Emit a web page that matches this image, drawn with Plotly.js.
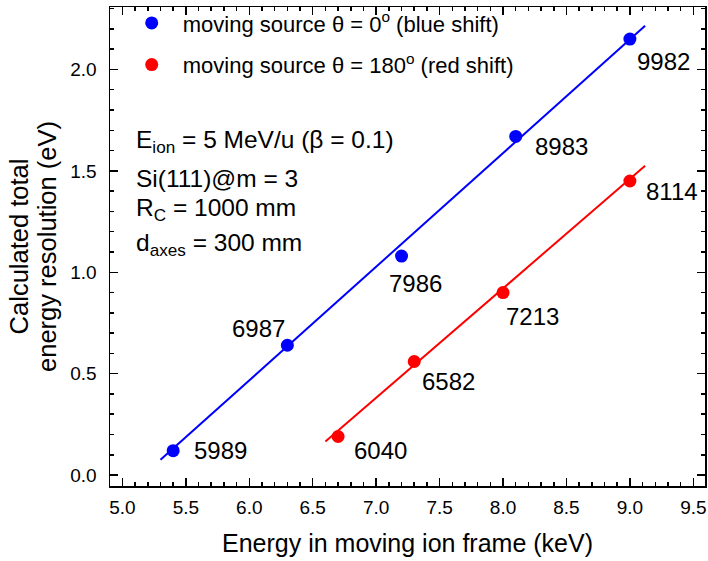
<!DOCTYPE html>
<html><head><meta charset="utf-8">
<script src="https://cdn.plot.ly/plotly-3.0.1.min.js"></script>
<style>html,body{margin:0;padding:0;background:#fff}</style>
</head><body><div id="chart" style="width:708px;height:561px"></div>
<script>
// ---- data ----
const blueX = [5.4, 6.3, 7.2, 8.1, 9.0];
const blueY = [0.12, 0.64, 1.08, 1.67, 2.15];
const blueLabels = ['5989', '6987', '7986', '8983', '9982'];
const redX = [6.7, 7.3, 8.0, 9.0];
const redY = [0.19, 0.56, 0.90, 1.45];
const redLabels = ['6040', '6582', '7213', '8114'];
const blueFitX = [5.3, 9.12];
const blueFitY = [0.075, 2.215];
const redFitX = [6.6, 9.12];
const redFitY = [0.165, 1.525];
const blueName = 'moving source \u03b8 = 0<sup>o</sup> (blue shift)';
const redName = 'moving source \u03b8 = 180<sup>o</sup> (red shift)';
const infoLines = ['E<sub>ion</sub> = 5 MeV/u (\u03b2 = 0.1)', 'Si(111)@m = 3', 'R<sub>C</sub> = 1000 mm', 'd<sub>axes</sub> = 300 mm'];
const xTitle = 'Energy in moving ion frame (keV)';
const yTitleLines = ['Calculated total', 'energy resolution (eV)'];

// ---- styles (pixel offsets of the point labels) ----
const blueShift = [[47, 0], [-29, 17], [14, -27], [46, -10], [34, -22]];
const redShift = [[42, -14], [34, -20], [29, -24], [42, -10]];
const infoY = [0.720, 0.642, 0.577, 0.505];

const FONT = 'Liberation Sans, Arial, sans-serif';
const BLUE = '#0000ff', RED = '#ff0000';

const traces = [
  {x: blueFitX, y: blueFitY, mode: 'lines', line: {color: BLUE, width: 2}, showlegend: false, hoverinfo: 'skip'},
  {x: redFitX, y: redFitY, mode: 'lines', line: {color: RED, width: 2}, showlegend: false, hoverinfo: 'skip'},
  {x: blueX, y: blueY, mode: 'markers', name: blueName, legendgroup: 'b', marker: {color: BLUE, size: 13}},
  {x: redX, y: redY, mode: 'markers', name: redName, legendgroup: 'r', marker: {color: RED, size: 13}}
];

const annotations = [];
blueX.forEach((v, i) => annotations.push({x: v, y: blueY[i], xref: 'x', yref: 'y', text: blueLabels[i], showarrow: false,
  xshift: blueShift[i][0], yshift: blueShift[i][1], font: {family: FONT, size: 24, color: '#000'}}));
redX.forEach((v, i) => annotations.push({x: v, y: redY[i], xref: 'x', yref: 'y', text: redLabels[i], showarrow: false,
  xshift: redShift[i][0], yshift: redShift[i][1], font: {family: FONT, size: 24, color: '#000'}}));
infoLines.forEach((t, i) => annotations.push({x: 0.04, y: infoY[i], xref: 'paper', yref: 'paper', xanchor: 'left', yanchor: 'middle',
  text: t, showarrow: false, font: {family: FONT, size: 24.5, color: '#000'}}));

const axisCommon = {
  showline: true, linecolor: '#000', linewidth: 1.5, mirror: 'allticks',
  ticks: 'inside', ticklen: 8, tickwidth: 1.5, tickcolor: '#000',
  showgrid: false, zeroline: false, tickformat: '.1f',
  tickfont: {family: FONT, size: 19, color: '#000'}
};

const layout = {
  width: 708, height: 561,
  margin: {l: 110, r: 3, t: 6, b: 75},
  paper_bgcolor: '#fff', plot_bgcolor: '#fff',
  font: {family: FONT, color: '#000'},
  showlegend: true,
  legend: {x: 0.018, y: 1.008, xanchor: 'left', yanchor: 'top', bgcolor: 'rgba(0,0,0,0)', itemwidth: 52,
    tracegroupgap: 10, font: {family: FONT, size: 22, color: '#000'}},
  xaxis: Object.assign({}, axisCommon, {
    range: [4.902, 9.592], dtick: 0.5, tick0: 5,
    ticklabelstandoff: 4, automargin: 'bottom',
    minor: {dtick: 0.1, ticklen: 4, ticks: 'inside', tickcolor: '#000', tickwidth: 1.5},
    title: {text: xTitle, font: {family: FONT, size: 25, color: '#000'}, standoff: 17}
  }),
  yaxis: Object.assign({}, axisCommon, {
    range: [-0.054, 2.308], dtick: 0.5, tick0: 0,
    ticklabelstandoff: 8, automargin: 'left',
    minor: {dtick: 0.1, ticklen: 4, ticks: 'inside', tickcolor: '#000', tickwidth: 1.5},
    title: {text: yTitleLines.map(t => '<span style="font-size:25.5px">' + t + '</span>').join('<br>'),
      font: {family: FONT, size: 22, color: '#000'}, standoff: 7}
  }),
  annotations: annotations
};

Plotly.newPlot('chart', traces, layout, {displayModeBar: false, staticPlot: true});
</script></body></html>
